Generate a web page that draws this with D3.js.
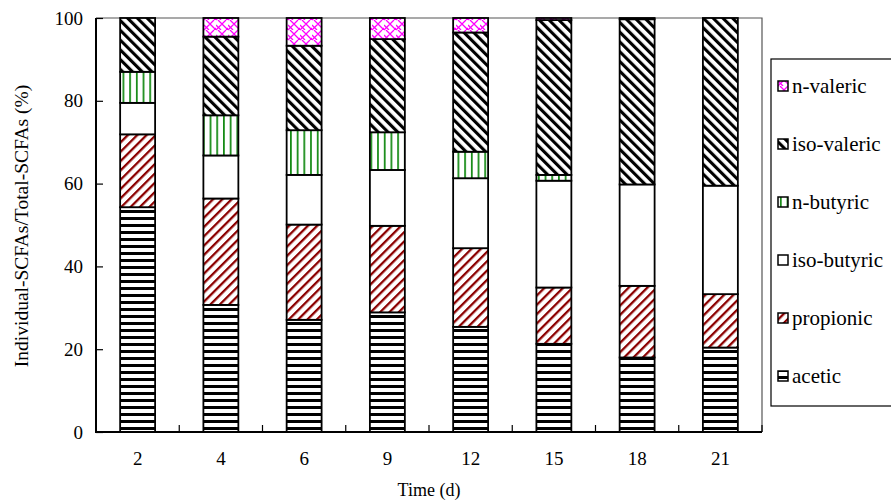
<!DOCTYPE html>
<html>
<head>
<meta charset="utf-8">
<script src="https://cdn.jsdelivr.net/npm/d3@7"></script>
<style>
  html, body { margin: 0; padding: 0; background: #fff; }
  svg { display: block; font-family: "Liberation Serif", "Times New Roman", serif; }
</style>
</head>
<body>
<svg id="chart" width="891" height="500"></svg>
<script>
// Sampling days
const days = ["2", "4", "6", "9", "12", "15", "18", "21"];

// Share of each acid in total SCFAs (%), stacked bottom to top
const acetic     = [54.3, 30.7, 27.1, 28.9, 25.4, 21.3, 18.0, 20.4];
const propionic  = [17.6, 25.7, 23.0, 20.9, 19.0, 13.6, 17.3, 12.9];
const isoButyric = [ 7.6, 10.4, 12.0, 13.5, 16.9, 25.8, 24.5, 26.2];
const nButyric   = [ 7.5,  9.7, 10.8,  9.1,  6.4,  1.4,  0.0,  0.0];
const isoValeric = [13.0, 19.0, 20.4, 22.5, 28.8, 37.4, 39.9, 40.5];
const nValeric   = [ 0.0,  4.5,  6.7,  5.1,  3.5,  0.5,  0.3,  0.0];

const seriesNames = ["acetic", "propionic", "iso-butyric", "n-butyric", "iso-valeric", "n-valeric"];
const seriesValues = [acetic, propionic, isoButyric, nButyric, isoValeric, nValeric];

const yTicks = [0, 20, 40, 60, 80, 100];

const svg = d3.select("#chart");
const margin = { left: 96, right: 762, top: 18, bottom: 432 };

// Fill patterns for each acid
const defs = svg.append("defs");
function pat(id, w, h, rot) {
  const p = defs.append("pattern")
    .attr("id", id)
    .attr("patternUnits", "userSpaceOnUse")
    .attr("width", w).attr("height", h);
  if (rot) p.attr("patternTransform", `rotate(${rot})`);
  p.append("rect").attr("width", w).attr("height", h).attr("fill", "#fff");
  return p;
}
// acetic: horizontal black stripes
pat("p-acetic", 10, 7).append("rect").attr("x", 0).attr("y", 0).attr("width", 10).attr("height", 3).attr("fill", "#000");
// propionic: dark red forward diagonal
pat("p-propionic", 6.6, 10, 45).append("rect").attr("x", 0).attr("y", 0).attr("width", 2.3).attr("height", 10).attr("fill", "#8b0000");
// iso-butyric: plain white
pat("p-isobutyric", 10, 10);
// n-butyric: green vertical lines
pat("p-nbutyric", 6.7, 10).append("rect").attr("x", 2).attr("y", 0).attr("width", 1.6).attr("height", 10).attr("fill", "#008000");
// iso-valeric: black backward diagonal
pat("p-isovaleric", 6.9, 10, -45).append("rect").attr("x", 0).attr("y", 0).attr("width", 3.1).attr("height", 10).attr("fill", "#000");
// n-valeric: magenta trellis
const pv = pat("p-nvaleric", 12, 10);
pv.append("path")
  .attr("d", "M0,10 L10,0 M-2,2 L0,0 M10,10 L12,8 M2,0 L7,5 M7,5 L12,10")
  .attr("stroke", "#ff00ff").attr("stroke-width", 1.3).attr("fill", "none");
pv.append("path")
  .attr("d", "M0,5 L5,10")
  .attr("stroke", "#ff00ff").attr("stroke-width", 1.3).attr("fill", "none");

const patternIds = ["p-acetic", "p-propionic", "p-isobutyric", "p-nbutyric", "p-isovaleric", "p-nvaleric"];

// Scales
const x = d3.scaleBand().domain(days).range([margin.left, margin.right])
  .paddingInner(0.58).paddingOuter(0.29);
const y = d3.scaleLinear().domain([0, 100]).range([margin.bottom, margin.top]);

// Stack rows
const rows = days.map((d, i) => {
  const r = { day: d };
  seriesNames.forEach((s, k) => { r[s] = seriesValues[k][i]; });
  return r;
});
const stacked = d3.stack().keys(seriesNames)(rows);

// Plot frame (top and right)
svg.append("path")
  .attr("d", `M${margin.left},${margin.top}H${margin.right}V${margin.bottom}`)
  .attr("fill", "none").attr("stroke", "#555").attr("stroke-width", 1.2);

// Bars
stacked.forEach((layer, k) => {
  svg.append("g").selectAll("rect")
    .data(layer.filter(d => d[1] - d[0] > 0))
    .join("rect")
    .attr("x", d => x(d.data.day))
    .attr("width", x.bandwidth())
    .attr("y", d => y(d[1]))
    .attr("height", d => y(d[0]) - y(d[1]))
    .attr("fill", `url(#${patternIds[k]})`)
    .attr("stroke", "#000")
    .attr("stroke-width", 1.8);
});

// Y axis
const yAxis = svg.append("g").attr("transform", `translate(${margin.left},0)`)
  .call(d3.axisRight(y).tickValues(yTicks).tickSize(7).tickFormat(""));
yAxis.select(".domain").remove();
yAxis.selectAll("line").attr("stroke", "#000").attr("stroke-width", 1.2);
svg.append("line")
  .attr("x1", margin.left).attr("x2", margin.left)
  .attr("y1", margin.top).attr("y2", margin.bottom + 1)
  .attr("stroke", "#000").attr("stroke-width", 2);
svg.append("g").selectAll("text")
  .data(yTicks).join("text")
  .attr("x", 83).attr("y", d => y(d))
  .attr("dy", "0.35em")
  .attr("text-anchor", "end")
  .attr("font-size", 19)
  .text(d => d);

// X axis: ticks at category boundaries pointing up
const step = x.step();
const boundaries = days.map((d, i) => margin.left + step * (i + 1));
svg.append("g").selectAll("line")
  .data(boundaries).join("line")
  .attr("x1", d => d).attr("x2", d => d)
  .attr("y1", margin.bottom).attr("y2", margin.bottom - 7)
  .attr("stroke", "#000").attr("stroke-width", 1.2);
svg.append("line")
  .attr("x1", margin.left - 1).attr("x2", margin.right)
  .attr("y1", margin.bottom).attr("y2", margin.bottom)
  .attr("stroke", "#000").attr("stroke-width", 2);
svg.append("g").selectAll("text")
  .data(days).join("text")
  .attr("x", d => x(d) + x.bandwidth() / 2)
  .attr("y", 465)
  .attr("text-anchor", "middle")
  .attr("font-size", 19)
  .text(d => d);

// Axis titles
svg.append("text")
  .attr("x", 429).attr("y", 496)
  .attr("text-anchor", "middle")
  .attr("font-size", 18)
  .text("Time (d)");
svg.append("text")
  .attr("transform", "translate(28,226) rotate(-90)")
  .attr("text-anchor", "middle")
  .attr("font-size", 19.5)
  .text("Individual-SCFAs/Total-SCFAs (%)");

// Legend (top entry is the top of the stack)
const legend = svg.append("g");
legend.append("rect")
  .attr("x", 771).attr("y", 59).attr("width", 130).attr("height", 347)
  .attr("fill", "#fff").attr("stroke", "#000").attr("stroke-width", 1.2);
const legendOrder = seriesNames.map((s, k) => ({ name: s, pid: patternIds[k] })).reverse();
const ly = d3.scalePoint().domain(legendOrder.map(d => d.name)).range([86, 376]);
const li = legend.selectAll("g.item").data(legendOrder).join("g").attr("class", "item")
  .attr("transform", d => `translate(778,${ly(d.name)})`);
li.append("rect")
  .attr("x", 0).attr("y", -5).attr("width", 10).attr("height", 10)
  .attr("fill", d => `url(#${d.pid})`)
  .attr("stroke", "#000").attr("stroke-width", 1.5);
li.append("text")
  .attr("x", 14).attr("y", 0).attr("dy", "0.35em")
  .attr("font-size", 21)
  .text(d => d.name);
</script>
</body>
</html>
